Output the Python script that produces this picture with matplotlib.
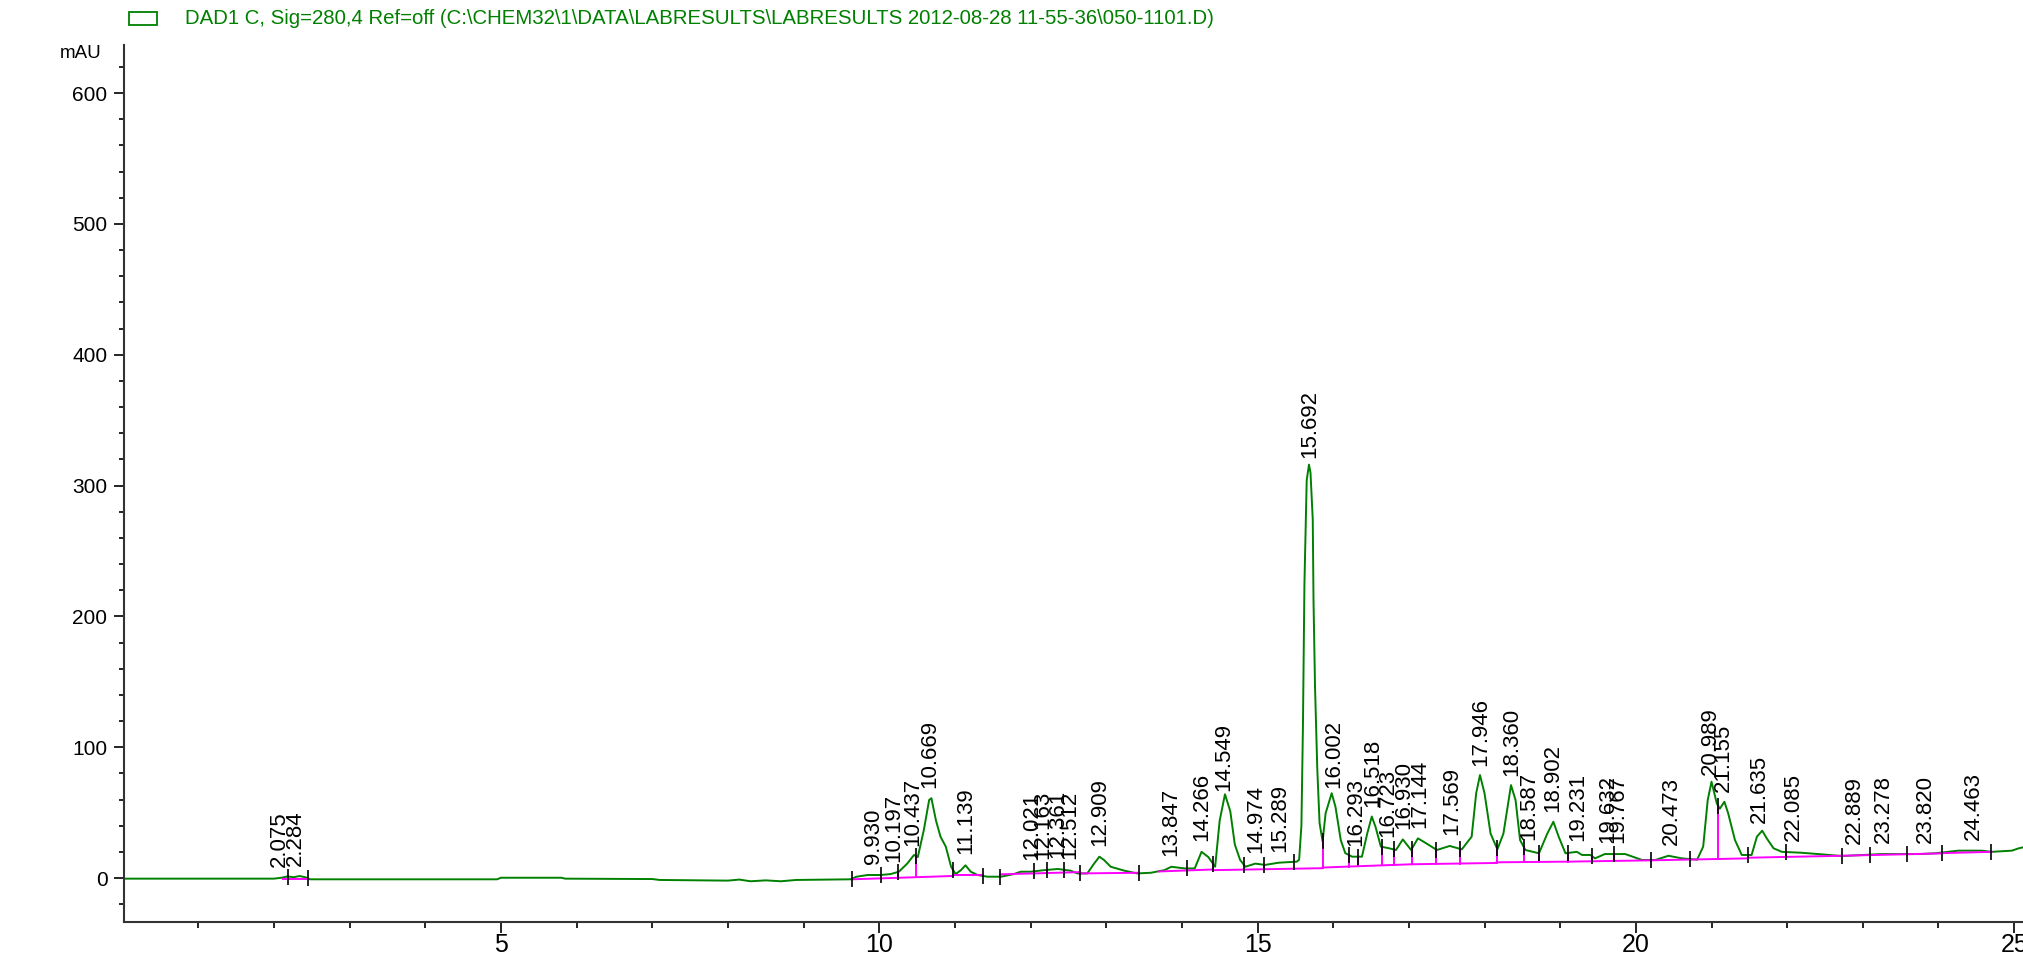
import numpy as np
import matplotlib
matplotlib.use("Agg")
import matplotlib.pyplot as plt
from matplotlib.patches import Rectangle
from matplotlib.ticker import MultipleLocator

plt.rcParams['font.family'] = ['Liberation Sans', 'DejaVu Sans']

# DAD signal trace (retention time in min, absorbance in mAU)
time = [0.0, 2.00, 2.10, 2.18, 2.26, 2.34, 2.42, 2.48, 2.60, 4.95, 5.00, 5.80, 5.85,
        7.00, 7.10, 8.00, 8.15, 8.30, 8.50, 8.70, 8.90, 9.62,
        9.70, 9.85, 10.02, 10.15, 10.26, 10.37, 10.46, 10.51, 10.59, 10.66, 10.69,
        10.75, 10.81, 10.88, 10.95, 11.01, 11.08, 11.14, 11.21, 11.30, 11.43, 11.61,
        11.78, 11.87, 12.00, 12.18, 12.36, 12.53, 12.62, 12.75, 12.84, 12.91, 12.97,
        13.06, 13.24, 13.41, 13.59, 13.77, 13.86, 14.04, 14.17, 14.26, 14.35, 14.44,
        14.50, 14.57, 14.64, 14.70, 14.77, 14.84, 14.97, 15.10, 15.28, 15.52, 15.55,
        15.58, 15.60, 15.62, 15.65, 15.68, 15.70, 15.73, 15.74, 15.76, 15.79, 15.82,
        15.86, 15.90, 15.98, 16.03, 16.10, 16.16, 16.25, 16.38, 16.45, 16.51, 16.56,
        16.63, 16.74, 16.83, 16.92, 17.03, 17.12, 17.23, 17.37, 17.54, 17.70, 17.83,
        17.89, 17.94, 18.00, 18.08, 18.17, 18.25, 18.35, 18.41, 18.47, 18.54, 18.72,
        18.83, 18.91, 18.98, 19.07, 19.22, 19.29, 19.40, 19.46, 19.59, 19.86, 20.08,
        20.26, 20.43, 20.61, 20.81, 20.89, 20.95, 21.00, 21.07, 21.11, 21.17, 21.22,
        21.31, 21.40, 21.53, 21.60, 21.67, 21.73, 21.82, 21.93, 22.19, 22.41, 22.72,
        23.25, 23.74, 23.96, 24.26, 24.57, 24.70, 24.97, 25.06, 25.16]
signal = [-0.5, -0.5, 0.2, 1.2, 0.6, 1.5, 0.5, -1.0, -1.0, -1.0, 0.2, 0.2, -0.5,
          -0.8, -1.5, -2.0, -1.2, -2.5, -1.8, -2.5, -1.5, -1.0,
          1.0, 2.3, 2.3, 3.0, 4.8, 11.0, 17.6, 16.0, 36.7, 59.6, 61.0,
          44.0, 31.6, 24.0, 8.6, 3.0, 6.0, 9.7, 4.8, 2.3, 1.0, 1.0,
          3.0, 4.8, 4.8, 6.0, 6.9, 5.6, 3.5, 3.5, 11.0, 16.3, 13.8,
          8.6, 5.6, 3.5, 4.0, 6.0, 8.6, 7.3, 7.3, 20.0, 16.0, 8.6,
          44.0, 64.0, 51.0, 25.6, 13.8, 8.6, 11.0, 10.0, 11.7, 12.5, 14.0,
          40.0, 115.0, 225.0, 304.0, 316.0, 310.0, 274.0, 212.0, 146.0, 83.0, 42.0,
          28.0, 49.5, 64.8, 54.5, 29.0, 19.0, 16.3, 16.3, 34.0, 47.0, 39.0,
          24.0, 22.7, 21.4, 29.5, 21.4, 30.3, 26.5, 21.4, 24.5, 21.9, 31.6,
          64.8, 78.7, 64.8, 34.0, 21.9, 34.0, 71.0, 59.6, 29.0, 21.4, 18.9,
          34.0, 43.0, 31.6, 18.9, 20.0, 17.6, 17.6, 15.0, 18.3, 18.3, 13.8,
          13.8, 17.0, 15.0, 14.0, 24.0, 59.6, 73.6, 57.0, 53.0, 58.3, 49.5,
          29.0, 17.6, 17.6, 31.6, 36.2, 30.3, 22.7, 20.0, 19.3, 18.3, 16.8,
          18.3, 18.3, 18.9, 20.9, 20.9, 20.0, 20.9, 22.7, 24.0]

# integration baselines: start, end, level at start, level at end
base_start = [2.12, 9.64, 10.98, 11.60, 12.65, 13.70, 14.41, 15.86, 17.04, 18.16,
              19.10, 20.20, 21.48, 22.72, 24.04]
base_end = [2.45, 10.95, 11.37, 12.65, 13.43, 14.41, 15.86, 17.04, 18.16, 19.10,
            20.20, 21.48, 22.72, 24.04, 24.70]
base_lo = [-0.8, -1.0, 2.3, 2.8, 3.5, 5.0, 6.0, 8.0, 10.5, 12.0, 12.5, 13.5, 15.5,
           17.0, 19.0]
base_hi = [-0.8, 1.5, 2.3, 4.5, 4.0, 6.5, 7.5, 10.5, 11.5, 12.5, 13.5, 15.0, 17.0,
           18.8, 20.0]

# drop lines between unresolved peaks
drops = [10.25, 10.48, 12.22, 12.44, 14.41, 15.09, 15.86, 16.21, 16.33, 16.64, 16.80,
         17.04, 17.36, 17.68, 18.16, 18.52, 18.72, 19.10, 19.42, 19.71, 21.09, 21.98]

# peak start / end marks
marks = [2.19, 2.45, 9.64, 10.02, 10.25, 10.48, 10.98, 11.37, 11.60, 12.05, 12.22,
         12.44, 12.65, 13.43, 14.07, 14.41, 14.82, 15.09, 15.48, 15.86, 16.21, 16.33,
         16.64, 16.80, 17.04, 17.36, 17.68, 18.16, 18.52, 18.72, 19.10, 19.42, 19.71,
         20.20, 20.72, 21.09, 21.48, 21.98, 22.72, 23.10, 23.58, 24.04, 24.70]

# retention times of integrated peaks
peaks = [2.075, 2.284, 9.930, 10.197, 10.437, 10.669, 11.139, 12.021, 12.163, 12.361,
         12.512, 12.909, 13.847, 14.266, 14.549, 14.974, 15.289, 15.692, 16.002,
         16.293, 16.518, 16.723, 16.930, 17.144, 17.569, 17.946, 18.360, 18.587,
         18.902, 19.231, 19.632, 19.767, 20.473, 20.989, 21.155, 21.635, 22.085,
         22.889, 23.278, 23.820, 24.463]

title = r"DAD1 C, Sig=280,4 Ref=off (C:\CHEM32\1\DATA\LABRESULTS\LABRESULTS 2012-08-28 11-55-36\050-1101.D)"

green = "#008000"
magenta = "#ff00ff"


def baseline_at(t):
    for s, e, a, b in zip(base_start, base_end, base_lo, base_hi):
        if s <= t <= e:
            return a + (b - a) * (t - s) / (e - s)
    return float(np.interp(t, time, signal))


fig = plt.figure(figsize=(20.24, 9.55), dpi=100)
ax = fig.add_axes([0.0613, 0.0346, 0.9387, 0.9186])

ax.plot(time, signal, color=green, lw=1.4, zorder=2)

for s, e, a, b in zip(base_start, base_end, base_lo, base_hi):
    ax.plot([s, e], [a, b], color=magenta, lw=1.4, zorder=3)

for t in drops:
    ax.plot([t, t], [baseline_at(t), np.interp(t, time, signal)],
            color=magenta, lw=1.4, zorder=3)

mark_y = [np.interp(t, time, signal) for t in marks]
ax.plot(marks, mark_y, "|", color="k", ms=11, mew=1.2, zorder=4)

for rt in peaks:
    ax.annotate(f"{rt:.3f}", (rt, np.interp(rt, time, signal)),
                xytext=(0, 8), textcoords="offset points",
                rotation=90, ha="center", va="bottom", fontsize=16, color="k")

ax.set_xlim(0.02, 25.13)
ax.set_ylim(-33.6, 637)

for side in ["top", "right"]:
    ax.spines[side].set_visible(False)
for side in ["left", "bottom"]:
    ax.spines[side].set_color("#333333")
    ax.spines[side].set_linewidth(1.5)

ax.xaxis.set_major_locator(MultipleLocator(5))
ax.xaxis.set_minor_locator(MultipleLocator(1))
ax.yaxis.set_major_locator(MultipleLocator(100))
ax.yaxis.set_minor_locator(MultipleLocator(20))
ax.tick_params(axis="x", which="major", length=8, width=1.2, labelsize=18, pad=0)
ax.tick_params(axis="x", which="minor", length=4.5, width=1.2)
ax.tick_params(axis="y", which="major", length=7, width=1.2, labelsize=15, pad=5)
ax.tick_params(axis="y", which="minor", length=3.5, width=1.2)

ax.text(-0.012, 0.99, "mAU", transform=ax.transAxes, ha="right", va="center",
        fontsize=13.5)

# legend entry for the signal
fig.patches.append(Rectangle((129 / 2024, 1 - 25 / 955), 28 / 2024, 13 / 955,
                             transform=fig.transFigure, fill=False,
                             edgecolor=green, lw=1.3))
fig.text(185 / 2024, 1 - 18 / 955, title, color=green, fontsize=14.7, va="center")

fig.savefig("out.png", dpi=100)
